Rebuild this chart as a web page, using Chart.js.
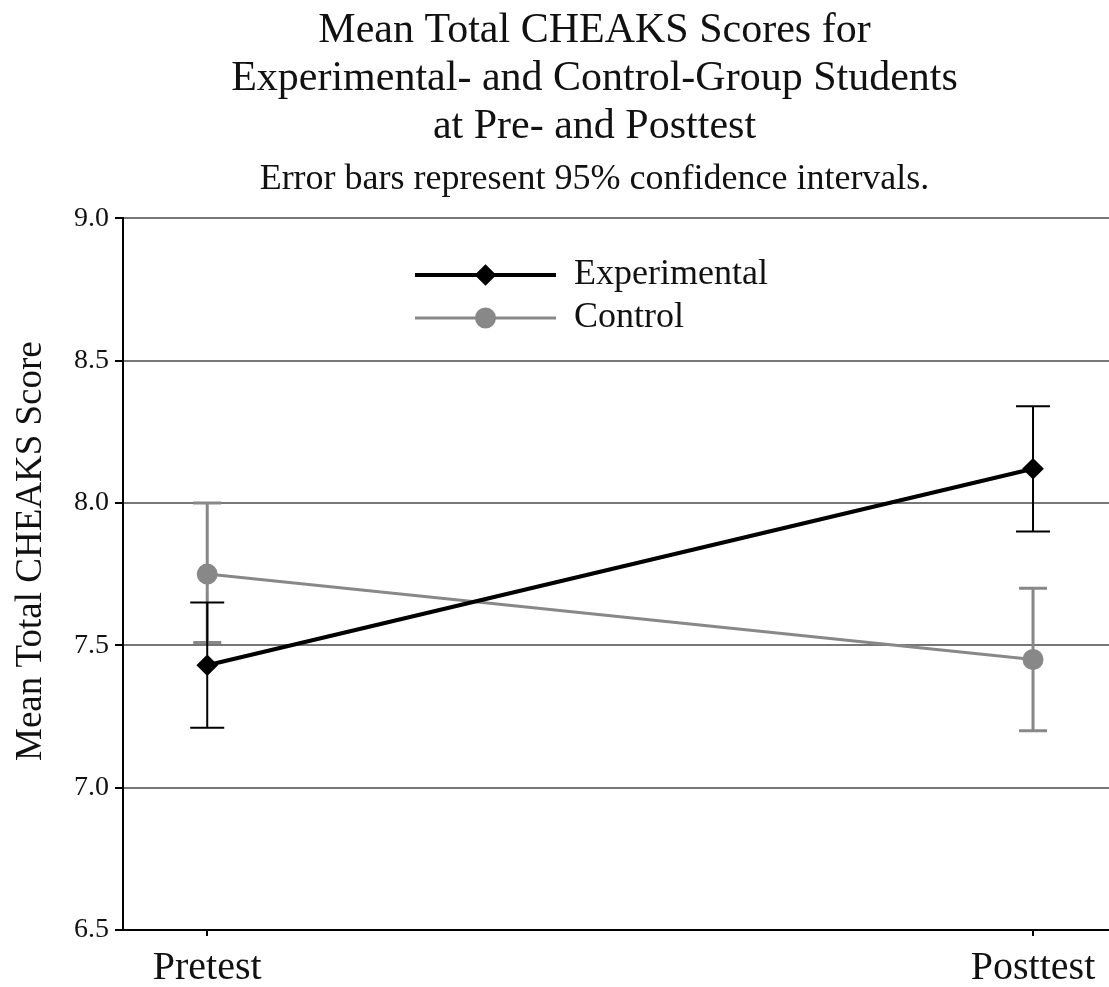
<!DOCTYPE html>
<html>
<head>
<meta charset="utf-8">
<script src="https://cdn.jsdelivr.net/npm/chart.js@4/dist/chart.umd.min.js"></script>
<style>
  html, body { margin: 0; padding: 0; background: #fff; overflow: hidden; }
  #wrap { width: 1109px; height: 987px; }
</style>
</head>
<body>
<div id="wrap"><canvas id="canvas"></canvas></div>
<script>
// values
let timepoints = [ 'Pretest', 'Posttest' ];
let groups = [ 'Experimental', 'Control' ];
let expMeans = [ 7.43, 8.12 ];
let expLow   = [ 7.21, 7.90 ];
let expHigh  = [ 7.65, 8.34 ];
let ctlMeans = [ 7.75, 7.45 ];
let ctlLow   = [ 7.51, 7.20 ];
let ctlHigh  = [ 8.00, 7.70 ];
let yTicks = [ 6.5, 7.0, 7.5, 8.0, 8.5, 9.0 ];
let yTitle = 'Mean Total CHEAKS Score';

let serif = "'Liberation Serif', 'DejaVu Serif', serif";

function points(means) {
  return means.map((m, i) => ({ x: i, y: m }));
}

// title and subtitle sit a bit left of the page centre in the original
let titleShift = {
  id: 'titleShift',
  afterLayout(chart) {
    chart.boxes.forEach(b => {
      if (b.fullSize && b.position === 'top' && b.options && b.options.text) {
        b.left = 80;
      }
    });
  }
};

// y axis title, a little above the middle of the axis like the original
let axisTitle = {
  id: 'axisTitle',
  afterDraw(chart) {
    let ctx = chart.ctx;
    let ys = chart.scales.y;
    ctx.save();
    ctx.translate(31, (ys.top + ys.bottom) / 2 - 23);
    ctx.rotate(-Math.PI / 2);
    ctx.font = '37px ' + serif;
    ctx.fillStyle = '#111';
    ctx.textAlign = 'center';
    ctx.textBaseline = 'middle';
    ctx.fillText(yTitle, 0, 0);
    ctx.restore();
  }
};

// error bars, drawn under the lines
let errorBars = {
  id: 'errorBars',
  beforeDatasetsDraw(chart) {
    let ctx = chart.ctx;
    let xs = chart.scales.x, ys = chart.scales.y;
    let sets = [
      { low: ctlLow, high: ctlHigh, color: '#888888', width: 3, cap: 14 },
      { low: expLow, high: expHigh, color: '#000000', width: 2, cap: 17 }
    ];
    ctx.save();
    sets.forEach(s => {
      ctx.strokeStyle = s.color;
      ctx.lineWidth = s.width;
      s.low.forEach((lo, i) => {
        let px = xs.getPixelForValue(i);
        let y1 = ys.getPixelForValue(lo), y2 = ys.getPixelForValue(s.high[i]);
        ctx.beginPath();
        ctx.moveTo(px, y1); ctx.lineTo(px, y2);
        ctx.moveTo(px - s.cap, y1); ctx.lineTo(px + s.cap, y1);
        ctx.moveTo(px - s.cap, y2); ctx.lineTo(px + s.cap, y2);
        ctx.stroke();
      });
    });
    ctx.restore();
  }
};

// legend inside the plot, top centre
let innerLegend = {
  id: 'innerLegend',
  afterDatasetsDraw(chart) {
    let ctx = chart.ctx;
    let x0 = 415, x1 = 556, y0 = 275, gap = 43;
    ctx.save();
    chart.data.datasets.forEach((ds, i) => {
      let y = y0 + i * gap;
      ctx.strokeStyle = ds.borderColor;
      ctx.lineWidth = ds.borderWidth;
      ctx.beginPath(); ctx.moveTo(x0, y); ctx.lineTo(x1, y); ctx.stroke();
      Chart.helpers.drawPoint(ctx, {
        pointStyle: ds.pointStyle, radius: ds.pointRadius, borderWidth: 1
      }, (x0 + x1) / 2, y);
      ctx.fillStyle = ds.pointBackgroundColor;
      ctx.fill();
      ctx.fillStyle = '#111';
      ctx.font = '36px ' + serif;
      ctx.textBaseline = 'middle';
      ctx.fillText(ds.label, 574, y);
    });
    ctx.restore();
  }
};

let options = {
  type: 'line',
  data: {
    datasets: [{
      label: groups[0],
      data: points(expMeans),
      borderColor: '#000000',
      borderWidth: 4,
      pointStyle: 'rectRot',
      pointRadius: 8,
      pointBackgroundColor: '#000000',
      pointBorderColor: '#000000'
    }, {
      label: groups[1],
      data: points(ctlMeans),
      borderColor: '#888888',
      borderWidth: 3,
      pointStyle: 'circle',
      pointRadius: 9,
      pointBackgroundColor: '#888888',
      pointBorderColor: '#888888'
    }]
  },
  options: {
    responsive: true,
    maintainAspectRatio: false,
    animation: false,
    layout: { autoPadding: false, padding: 0 },
    plugins: {
      legend: { display: false },
      tooltip: { enabled: false },
      title: {
        display: true,
        text: [ 'Mean Total CHEAKS Scores for', 'Experimental- and Control-Group Students', 'at Pre- and Posttest' ],
        color: '#111',
        font: { family: serif, size: 42, weight: 'normal', lineHeight: 1.143 },
        padding: { top: 7, bottom: 7 }
      },
      subtitle: {
        display: true,
        text: 'Error bars represent 95% confidence intervals.',
        color: '#111',
        font: { family: serif, size: 36, weight: 'normal', lineHeight: 1.2 },
        padding: { top: 0, bottom: 17 }
      }
    },
    scales: {
      x: {
        type: 'linear',
        min: -0.102,
        max: 1.092,
        afterBuildTicks(scale) { scale.ticks = timepoints.map((t, i) => ({ value: i })); },
        afterFit(scale) {
          scale.paddingLeft = 0;
          scale.paddingRight = 0;
          scale.height = 57;
        },
        ticks: {
          callback: v => timepoints[v],
          color: '#111',
          font: { family: serif, size: 40, lineHeight: 0.95 },
          padding: 13,
          maxRotation: 0
        },
        grid: { drawOnChartArea: false, drawTicks: true, tickLength: 6, tickColor: '#000', lineWidth: 2 },
        border: { display: true, color: '#000', width: 2 }
      },
      y: {
        min: 6.5,
        max: 9.0,
        afterBuildTicks(scale) { scale.ticks = yTicks.map(v => ({ value: v })); },
        afterFit(scale) {
          scale.width = 123;
          scale.paddingBottom = 0;
        },
        ticks: {
          callback: v => v.toFixed(1),
          color: '#111',
          font: { family: serif, size: 28 },
          padding: 6
        },
        grid: { color: '#777777', lineWidth: 2, tickLength: 8, tickColor: '#000' },
        border: { display: true, color: '#000', width: 2 }
      }
    }
  },
  plugins: [ titleShift, errorBars, innerLegend, axisTitle ]
};

let chart = new Chart(document.getElementById('canvas'), options);
</script>
</body>
</html>
